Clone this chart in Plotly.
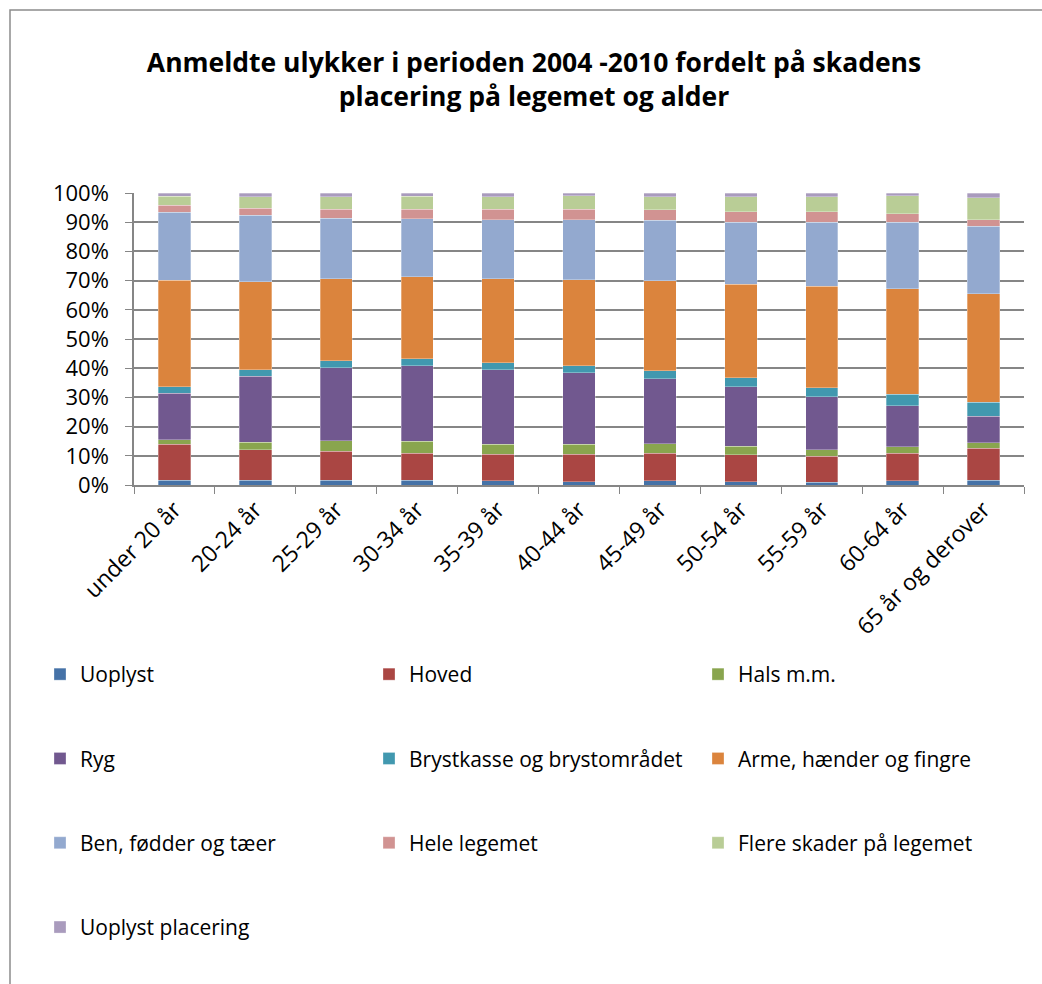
import plotly.graph_objects as go

ages = ["under 20 år", "20-24 år", "25-29 år", "30-34 år", "35-39 år", "40-44 år",
        "45-49 år", "50-54 år", "55-59 år", "60-64 år", "65 år og derover"]

uoplyst = [1.7, 1.7, 1.6, 1.7, 1.5, 1.1, 1.4, 1.1, 0.9, 1.4, 1.7]
hoved = [12.2, 10.4, 10.0, 9.2, 9.0, 9.4, 9.5, 9.2, 9.0, 9.5, 10.9]
hals = [1.6, 2.6, 3.6, 4.0, 3.5, 3.5, 3.2, 2.9, 2.1, 2.2, 1.9]
ryg = [16.0, 22.6, 24.9, 26.0, 25.5, 24.4, 22.3, 20.5, 18.2, 14.0, 9.1]
brystkasse = [2.2, 2.1, 2.5, 2.3, 2.4, 2.5, 2.7, 3.0, 3.1, 3.9, 4.8]
arme = [36.4, 30.2, 28.1, 28.2, 28.8, 29.4, 30.8, 32.0, 34.7, 36.2, 37.1]
ben = [23.3, 22.7, 20.7, 19.8, 20.2, 20.6, 20.7, 21.2, 22.0, 22.7, 23.2]
hele = [2.4, 2.4, 3.1, 3.3, 3.5, 3.5, 3.6, 3.7, 3.6, 3.0, 2.1]
flere = [3.1, 4.0, 4.2, 4.4, 4.3, 4.6, 4.5, 5.1, 5.1, 6.1, 7.5]
uoplyst_plac = [1.1, 1.3, 1.3, 1.1, 1.3, 1.0, 1.3, 1.3, 1.3, 1.0, 1.7]

# legend column for each series (legend = left, legend2 = middle, legend3 = right)
series = [
    ("Uoplyst", uoplyst, "#4572A7", "legend"),
    ("Hoved", hoved, "#AA4643", "legend2"),
    ("Hals m.m.", hals, "#89A54E", "legend3"),
    ("Ryg", ryg, "#71588F", "legend"),
    ("Brystkasse og brystområdet", brystkasse, "#4198AF", "legend2"),
    ("Arme, hænder og fingre", arme, "#DB843D", "legend3"),
    ("Ben, fødder og tæer", ben, "#93A9CF", "legend"),
    ("Hele legemet", hele, "#D19392", "legend2"),
    ("Flere skader på legemet", flere, "#B9CD96", "legend3"),
    ("Uoplyst placering", uoplyst_plac, "#A99BBD", "legend"),
]

font = "Open Sans, Noto Sans, sans-serif"

fig = go.Figure()
for name, vals, color, leg in series:
    fig.add_trace(go.Bar(
        x=ages, y=vals, name=name, legend=leg, legendgroup=name,
        marker=dict(color=color, line=dict(color="rgba(255,255,255,0.6)", width=0.5)),
    ))

# plot area is 134..1024 x 193..485 px
def px(pix):
    return (pix - 134) / 890

def py(pix):
    return (485 - pix) / 292

leg_common = dict(orientation="v", xref="paper", yref="paper",
                  xanchor="left", yanchor="top", y=py(654), tracegroupgap=54,
                  font=dict(family=font, size=21, color="#000000"),
                  bgcolor="rgba(0,0,0,0)", traceorder="grouped", itemclick=False)

fig.update_layout(
    width=1042, height=984,
    margin=dict(l=134, r=18, t=193, b=499),
    barmode="stack", barnorm="percent", bargap=0.6,
    paper_bgcolor="white", plot_bgcolor="white",
    font=dict(family=font, size=21, color="#000000"),
    title=dict(
        text="<b>Anmeldte ulykker i perioden 2004 -2010 fordelt på skadens<br>placering på legemet og alder</b>",
        x=0.5125, xanchor="center", y=0.927, yanchor="middle",
        font=dict(family=font, size=26.5, color="#000000"),
    ),
    legend=dict(**leg_common, x=px(40)),
    legend2=dict(**leg_common, x=px(369)),
    legend3=dict(**leg_common, x=px(698)),
    xaxis=dict(
        tickangle=-45, tickson="boundaries", ticks="outside", ticklen=7,
        tickcolor="#868686", showline=True, linecolor="#868686", linewidth=1.5,
        showgrid=False, tickfont=dict(family=font, size=23),
    ),
    yaxis=dict(
        range=[0, 100], dtick=10, ticksuffix="%", ticks="outside", ticklen=7,
        tickcolor="#868686", showline=True, linecolor="#868686", linewidth=1.5,
        showgrid=True, gridcolor="#868686", gridwidth=1.5, zeroline=False,
        ticklabelstandoff=12, tickfont=dict(family=font, size=22),
    ),
    shapes=[dict(
        type="rect", xref="paper", yref="paper",
        x0=px(10), x1=px(1060), y0=py(1000), y1=py(10),
        line=dict(color="#8C8C8C", width=1.5), fillcolor="rgba(0,0,0,0)", layer="below",
    )],
)

fig.write_html("out.html", config={"displayModeBar": False},
               post_script="document.body.style.margin='0px';")
